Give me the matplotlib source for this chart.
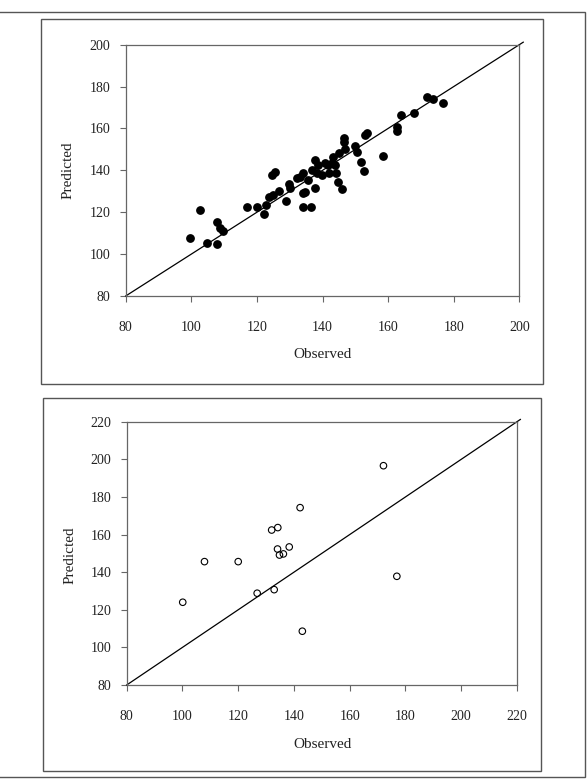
import numpy as np
import matplotlib.pyplot as plt
from matplotlib.patches import Rectangle

plt.rcParams['font.family'] = ['Liberation Serif', 'DejaVu Serif']

# calibration set (top panel)
obs_cal = [99.6, 102.7, 104.9, 107.9, 107.9, 108.9, 109.8, 116.9, 120.1, 122.1,
           122.7, 123.7, 124.8, 124.5, 125.5, 126.7, 128.8, 129.9, 130.1, 132.1,
           133.1, 134.1, 134.1, 134.7, 134.0, 136.6, 135.7, 136.7, 137.7, 137.7,
           138.7, 138.2, 139.8, 140.8, 141.8, 142.8, 142.1, 143.1, 144.1, 143.8,
           144.8, 145.9, 145.1, 146.7, 146.7, 146.9, 149.9, 150.6, 151.7, 152.7,
           153.0, 153.7, 158.5, 162.8, 162.8, 163.8, 167.9, 171.8, 173.8, 176.8]
pred_cal = [107.6, 121.1, 105.5, 104.8, 115.2, 112.3, 111.2, 122.6, 122.6, 119.0,
            123.5, 127.4, 128.2, 137.8, 139.4, 130.1, 125.5, 133.5, 131.4, 136.2,
            137.0, 138.6, 129.3, 129.8, 122.6, 122.6, 135.4, 140.2, 145.0, 131.4,
            142.6, 138.6, 137.8, 143.4, 142.6, 143.4, 138.6, 146.2, 138.6, 142.6,
            134.6, 131.1, 148.1, 155.3, 153.7, 150.1, 151.6, 148.9, 144.1, 139.7,
            156.9, 157.7, 146.9, 160.9, 158.9, 166.6, 167.2, 174.9, 174.1, 172.0]

# validation set (bottom panel)
obs_val = [100.1, 107.9, 120.0, 126.8, 132.9, 132.0, 134.2, 134.1, 134.8, 136.2,
           138.3, 142.2, 143.0, 172.1, 176.9]
pred_val = [124.0, 145.6, 145.6, 128.8, 130.7, 162.4, 163.7, 152.3, 149.1, 149.7,
            153.4, 174.3, 108.6, 196.6, 137.8]

W, H = 588, 782
fig = plt.figure(figsize=(W / 100, H / 100), dpi=100)


def px_rect(x0, y0, x1, y1):
    # pixel box (top-left origin) -> figure fraction
    return [x0 / W, 1 - y1 / H, (x1 - x0) / W, (y1 - y0) / H]


# outer frame and panel boxes
for x0, y0, x1, y1 in [(-3, 12, 585, 777), (41, 19, 543, 384), (43, 398, 541, 771)]:
    fig.patches.append(Rectangle((x0 / W, 1 - y1 / H), (x1 - x0) / W, (y1 - y0) / H,
                                 transform=fig.transFigure, fill=False,
                                 edgecolor='#555555', linewidth=1.0))


def style(ax, lo, hi):
    ax.set_xlim(lo, hi)
    ax.set_ylim(lo, hi)
    ticks = np.arange(lo, hi + 1, 20)
    ax.set_xticks(ticks)
    ax.set_yticks(ticks)
    for s in ax.spines.values():
        s.set_color('#666666')
        s.set_linewidth(0.9)
    ax.tick_params(direction='out', length=4, width=0.8, color='#666666',
                   labelsize=10, labelcolor='#222222')
    ax.tick_params(axis='x', pad=14)
    ax.tick_params(axis='y', pad=7)
    ax.plot([lo, hi + 1.2], [lo, hi + 1.2], color='black', linewidth=0.9, clip_on=False)


ax1 = fig.add_axes(px_rect(125.7, 44.7, 519.3, 296))
style(ax1, 80, 200)
ax1.scatter(obs_cal, pred_cal, s=28, color='black', zorder=3)

ax2 = fig.add_axes(px_rect(126.7, 421.7, 517, 685))
style(ax2, 80, 220)
ax2.scatter(obs_val, pred_val, s=22, facecolors='none', edgecolors='black',
            linewidths=0.8, zorder=3)

for yl, xl in [((68, 170), (323, 354)), ((70, 555), (323, 745))]:
    fig.text(yl[0] / W, 1 - yl[1] / H, 'Predicted', rotation=90, ha='center',
             va='center', fontsize=11, color='#222222')
    fig.text(xl[0] / W, 1 - xl[1] / H, 'Observed', ha='center', va='center',
             fontsize=11, color='#222222')

fig.savefig('out.png', dpi=100)
